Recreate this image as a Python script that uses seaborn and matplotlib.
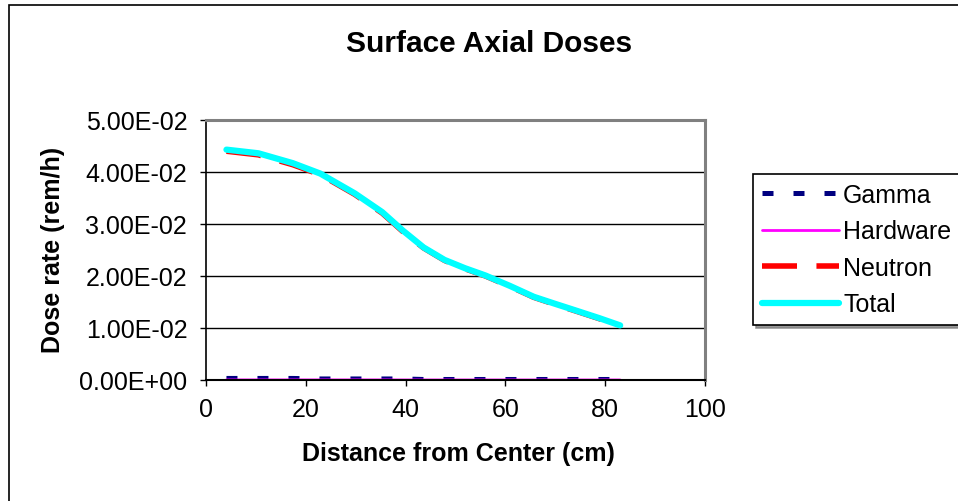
import matplotlib.pyplot as plt
import seaborn as sns
import pandas as pd
from matplotlib.patches import Rectangle
from matplotlib.ticker import FuncFormatter

# Dados
distancia = [4.1, 10.5, 17.4, 22.9, 29.8, 35.3, 39.5, 43.6, 47.8, 51.9, 56.0,
             60.9, 65.7, 69.8, 74.0, 78.8, 83.0]
total = [0.0443, 0.0436, 0.0417, 0.0397, 0.0359, 0.0323, 0.0287, 0.0255,
         0.0231, 0.0215, 0.0201, 0.0181, 0.0160, 0.0147, 0.0134, 0.0119, 0.0105]
neutron = [0.0440, 0.0433, 0.0414, 0.0395, 0.0357, 0.0321, 0.0285, 0.0254,
           0.0230, 0.0214, 0.0200, 0.0180, 0.0159, 0.0146, 0.0133, 0.0118, 0.0104]
gamma = [0.0003, 0.0003, 0.0003, 0.0002, 0.0002, 0.0002, 0.0002, 0.0001,
         0.0001, 0.0001, 0.0001, 0.0001, 0.0001, 0.0001, 0.0001, 0.0001, 0.0001]
hardware = [0.00002, 0.00002, 0.00002, 0.00002, 0.00002, 0.00002, 0.00001,
            0.00001, 0.00001, 0.00001, 0.00001, 0.00001, 0.00001, 0.00001,
            0.00001, 0.00001, 0.00001]

series = ["Gamma", "Hardware", "Neutron", "Total"]
cores = ["#000080", "#FF00FF", "#FF0000", "#00FFFF"]
yticks = [0, 0.01, 0.02, 0.03, 0.04, 0.05]
xticks = [0, 20, 40, 60, 80, 100]

df = pd.DataFrame({"Distancia": distancia, "Gamma": gamma, "Hardware": hardware,
                   "Neutron": neutron, "Total": total})
df = df.melt(id_vars="Distancia", var_name="Serie", value_name="Dose")

# Estilo
sns.set_style("white")
plt.rcParams["font.family"] = ["Liberation Sans", "DejaVu Sans"]
plt.rcParams["text.color"] = "black"
plt.rcParams["xtick.color"] = "black"
plt.rcParams["ytick.color"] = "black"

fig = plt.figure(figsize=(9.58, 5.02), dpi=100)
ax = fig.add_axes([206 / 958, 1 - 381 / 502, 499 / 958, 260 / 502])

estilos = {
    "Gamma": dict(linewidth=3.6, linestyle=(0, (2.2, 4))),
    "Hardware": dict(linewidth=2.0, linestyle="-"),
    "Neutron": dict(linewidth=4.0, linestyle=(0, (6.3, 3.5))),
    "Total": dict(linewidth=4.5, linestyle="-", solid_capstyle="round"),
}

for nome, cor in zip(series, cores):
    sub = df[df["Serie"] == nome]
    sns.lineplot(data=sub, x="Distancia", y="Dose", color=cor, label=nome,
                 ax=ax, **estilos[nome])

# Eixos
ax.set_xlim(0, 100)
ax.set_ylim(0, 0.05)
ax.set_xticks(xticks)
ax.set_yticks(yticks)
ax.yaxis.set_major_formatter(FuncFormatter(lambda v, p: f"{v:.2E}"))
ax.yaxis.grid(True, color="black", linewidth=1)
ax.set_axisbelow(True)
ax.tick_params(axis="both", direction="out", length=4.5, width=1,
               color="black", labelcolor="black", labelsize=18)
ax.tick_params(axis="y", pad=9, left=True)
ax.tick_params(axis="x", pad=8, bottom=True)
ax.set_xlabel("")
ax.set_ylabel("")

for lado in ["top", "right"]:
    ax.spines[lado].set_color("#808080")
    ax.spines[lado].set_linewidth(2.2)
ax.spines["left"].set_color("black")
ax.spines["left"].set_linewidth(1.2)
ax.spines["bottom"].set_color("black")
ax.spines["bottom"].set_linewidth(1.5)

# Textos
fig.text(489 / 958, 1 - 52 / 502, "Surface Axial Doses", ha="center",
         va="baseline", fontsize=21.5, fontweight="bold")
fig.text(458 / 958, 1 - 461 / 502, "Distance from Center (cm)", ha="center",
         va="baseline", fontsize=18, fontweight="bold")
fig.text(53 / 958, 1 - 250 / 502, "Dose rate (rem/h)", ha="center",
         va="center", rotation=90, fontsize=18, fontweight="bold")

# Legenda
handles, labels = ax.get_legend_handles_labels()
leg = ax.legend(handles, labels, loc="upper left",
                bbox_to_anchor=(753 / 958, 1 - 175 / 502),
                bbox_transform=fig.transFigure, fontsize=18, frameon=True,
                fancybox=False, edgecolor="black", handlelength=3.1,
                handletextpad=0.15, labelspacing=0.5, borderpad=0.35,
                borderaxespad=0, shadow={"color": "gray", "alpha": 0.8})
leg.get_frame().set_linewidth(1.2)

# Borda externa do gráfico
fig.add_artist(Rectangle((9 / 958, -0.2), 1.2, 1.2 - 6 / 502,
                         transform=fig.transFigure, fill=False,
                         edgecolor="black", linewidth=1.2))

fig.savefig("out.png", dpi=100)
